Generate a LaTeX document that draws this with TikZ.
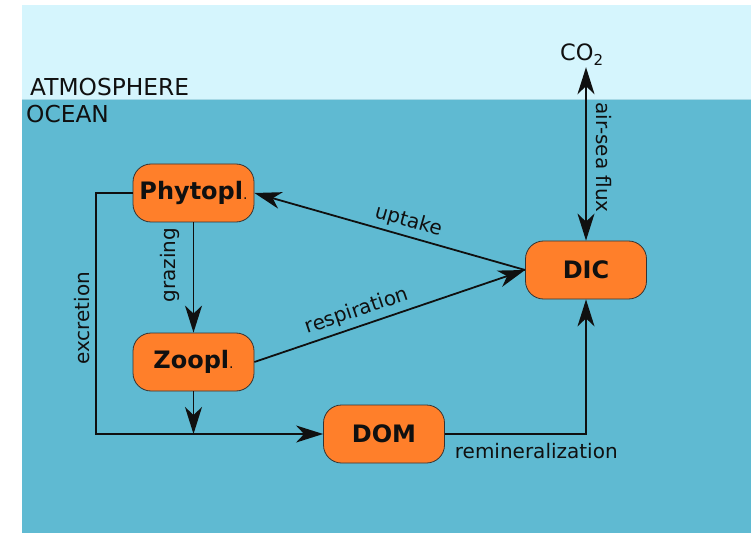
\documentclass[tikz,border=0pt]{standalone}
\usepackage{fontspec}
\setmainfont{DejaVu Sans}
\usetikzlibrary{arrows.meta}

\definecolor{sky}{HTML}{D5F5FD}
\definecolor{sea}{HTML}{5FBAD2}
\definecolor{pool}{HTML}{FF7F2A}
\definecolor{ink}{HTML}{101010}

\newcommand{\smalldot}{{\mdseries\fontsize{14}{14}\selectfont.}}

\begin{document}
\begin{tikzpicture}[x=1pt, y=-1pt,
  >={Stealth[length=27pt, width=17pt, inset=8pt]},
  poolbox/.style={draw=ink!85, line width=0.8pt, fill=pool,
    rounded corners=18pt, minimum width=121pt, minimum height=58pt,
    inner sep=0pt, text=ink, font=\fontsize{24}{24}\selectfont\bfseries},
  flux/.style={line width=1.8pt, draw=ink},
  lbl/.style={font=\fontsize{20}{20}\selectfont, text=ink, inner sep=2pt},
  region/.style={font=\fontsize{23.3}{23.3}\selectfont, text=ink, inner sep=0pt, anchor=base west},
]
\useasboundingbox (0,0) rectangle (751,534);

% atmosphere and ocean layers
\fill[white] (0,0) rectangle (751,534);
\fill[sky] (22,5) rectangle (751,100);
\fill[sea] (22,100) rectangle (751,533);
\draw[sea!55!white, line width=1pt] (22,100) -- (751,100);

\node[region] (atm) at (30,96) {ATMOSPHERE};
\node[region] (ocn) at (26,123) {OCEAN};

% carbon pools
\node[poolbox] (phy) at (193.5,193) {Phytopl\smalldot};
\node[poolbox] (zoo) at (193.5,362) {Zoopl\smalldot};
\node[poolbox] (dom) at (384,434) {DOM};
\node[poolbox] (dic) at (586,270) {DIC};
\node[anchor=base west, inner sep=1pt, text=ink,
  font=\fontsize{22.5}{22.5}\selectfont] (co2) at (559,61)
  {CO\raisebox{-5pt}{\fontsize{15}{15}\selectfont 2}};

% fluxes
\draw[flux, <->] (dic.north) -- (dic.north |- co2.south)
  node[lbl, rotate=-90] at (604,157.5) {air-sea flux};

\draw[flux, ->] (dic.west) -- (phy.east)
  node[lbl, sloped, pos=0.446, above=2.5pt] {uptake};

\draw[flux, ->] (zoo.east) -- (dic.west)
  node[lbl, sloped, pos=0.397, above=2.5pt] {respiration};

\draw[flux, ->] (phy.south) -- (zoo.north)
  node[lbl, rotate=90] at (170,265) {grazing};

\draw[flux, ->] (zoo.south) -- (zoo.south |- dom.west);

\draw[flux, ->] (phy.west) -- ++(-36.5,0) |- (dom.west)
  node[lbl, rotate=90] at (82.5,318.5) {excretion};

\draw[flux, ->] (dom.east) -| (dic.south)
  node[lbl, anchor=base west, inner sep=0pt] at (454,458) {remineralization};
\end{tikzpicture}
\end{document}
